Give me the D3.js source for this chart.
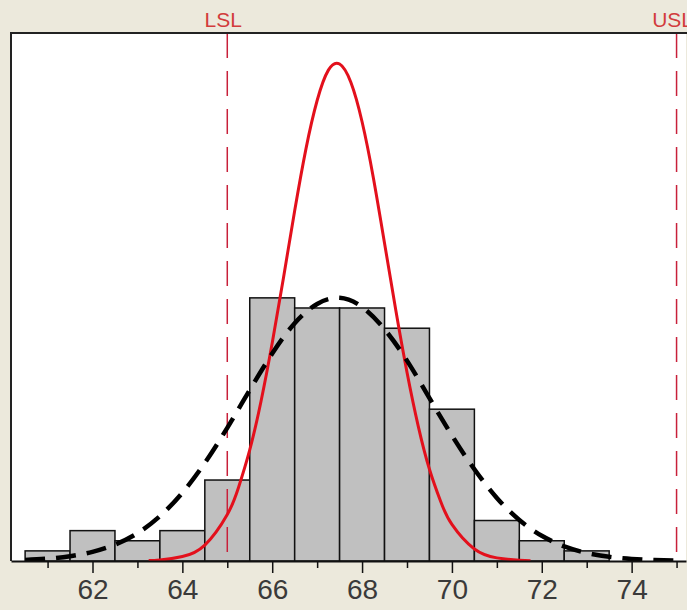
<!DOCTYPE html>
<html>
<head>
<meta charset="utf-8">
<script src="https://cdnjs.cloudflare.com/ajax/libs/d3/7.8.5/d3.min.js"></script>
<style>
  html, body { margin: 0; padding: 0; background: #ECE9DC; }
  svg { display: block; }
</style>
</head>
<body>
<div id="capability"><svg width="687" height="610"></svg></div>
<script>
// histogram bins (centre of each 1-unit bin) and counts
var binCenters = [61, 62, 63, 64, 65, 66, 67, 68, 69, 70, 71, 72, 73];
var binCounts  = [1, 3, 2, 3, 8, 26, 25, 25, 23, 15, 4, 2, 1];

// overall fit (black dashed)
var overallX = [60.5, 61, 61.5, 62, 62.5, 63, 63.5, 64, 64.5, 65, 65.5, 66, 66.5, 67, 67.5,
                68, 68.5, 69, 69.5, 70, 70.5, 71, 71.5, 72, 72.5, 73, 73.5, 74, 74.5, 75];
var overallY = [0.11, 0.23, 0.47, 0.9, 1.62, 2.75, 4.43, 6.74, 9.69, 13.16, 16.9, 20.5, 23.5, 25.4, 26.0,
                25.1, 22.9, 19.8, 16.1, 12.4, 9.06, 6.23, 4.05, 2.49, 1.44, 0.79, 0.41, 0.2, 0.09, 0.04];

// within fit (red solid)
var withinX = [63.25, 63.5, 64, 64.5, 65, 65.25, 65.5, 65.75, 66, 66.25, 66.5, 66.75, 67, 67.25, 67.5,
               67.75, 68, 68.25, 68.5, 68.75, 69, 69.25, 69.5, 69.75, 70, 70.5, 71, 71.5, 71.75];
var withinY = [0.04, 0.1, 0.44, 1.57, 4.59, 7.27, 10.98, 15.76, 21.53, 27.97, 34.6, 40.7, 45.5, 48.5, 49.1,
               47.3, 43.4, 37.9, 31.4, 24.8, 18.65, 13.33, 9.06, 5.87, 3.61, 1.18, 0.31, 0.07, 0.03];

// spec limits
var specNames  = ["LSL", "USL"];
var specValues = [65, 75];

var majorTicks = [62, 64, 66, 68, 70, 72, 74];
var minorTicks = [61, 63, 65, 67, 69, 71, 73, 75];

var svg = d3.select("#capability").select("svg");
var plot = {left: 11, top: 33, right: 686, bottom: 561};

var x = d3.scaleLinear()
    .domain([60.186, 75.21])
    .range([plot.left, plot.right]);

var y = d3.scaleLinear()
    .domain([0, 52.17])
    .range([plot.bottom, plot.top]);

svg.append("defs").append("clipPath").attr("id", "plotclip")
  .append("rect")
    .attr("x", plot.left).attr("y", plot.top)
    .attr("width", plot.right - plot.left).attr("height", plot.bottom - plot.top);

// white plot area
svg.append("rect")
    .attr("x", plot.left)
    .attr("y", plot.top)
    .attr("width", plot.right - plot.left)
    .attr("height", plot.bottom - plot.top)
    .attr("fill", "#ffffff");

var g = svg.append("g").attr("clip-path", "url(#plotclip)");

// bars
g.append("g")
  .selectAll("rect")
  .data(binCenters)
  .enter().append("rect")
    .attr("x", function(d) { return x(d - 0.5); })
    .attr("y", function(d, i) { return y(binCounts[i]); })
    .attr("width", function(d) { return x(d + 0.5) - x(d - 0.5); })
    .attr("height", function(d, i) { return y(0) - y(binCounts[i]); })
    .attr("fill", "#c0c0c0")
    .attr("stroke", "#111")
    .attr("stroke-width", 1.5);

// spec limit lines
g.append("g")
  .selectAll("line")
  .data(specValues)
  .enter().append("line")
    .attr("x1", function(d) { return x(d); })
    .attr("x2", function(d) { return x(d); })
    .attr("y1", plot.top)
    .attr("y2", plot.bottom)
    .attr("stroke", "#c8203a")
    .attr("stroke-width", 1.5)
    .attr("stroke-dasharray", "25,13");

var line = d3.line()
    .x(function(d) { return x(d[0]); })
    .y(function(d) { return y(d[1]); })
    .curve(d3.curveNatural);

// within curve
g.append("path")
    .datum(withinX.map(function(v, i) { return [v, withinY[i]]; }))
    .attr("d", line)
    .attr("fill", "none")
    .attr("stroke", "#e3101c")
    .attr("stroke-width", 3);

// overall curve
g.append("path")
    .datum(overallX.map(function(v, i) { return [v, overallY[i]]; }))
    .attr("d", line)
    .attr("fill", "none")
    .attr("stroke", "#000")
    .attr("stroke-width", 4.5)
    .attr("stroke-dasharray", "20,11");

// frame (left + top)
svg.append("path")
    .attr("d", "M" + plot.left + "," + plot.bottom + "V" + plot.top + "H" + 687)
    .attr("fill", "none")
    .attr("stroke", "#222")
    .attr("stroke-width", 2);

// x axis, major ticks with labels
var xAxis = svg.append("g")
    .attr("transform", "translate(0," + plot.bottom + ")")
    .call(d3.axisBottom(x).tickValues(majorTicks).tickSize(12).tickSizeOuter(0).tickPadding(6));
xAxis.select(".domain").attr("stroke", "#111").attr("stroke-width", 2);
xAxis.selectAll(".tick line").attr("stroke", "#111").attr("stroke-width", 1.5);
xAxis.selectAll(".tick text")
    .attr("font-family", "Liberation Sans, Arial, sans-serif")
    .attr("font-size", 28)
    .attr("fill", "#3a3a3a");

// minor ticks
var xMinor = svg.append("g")
    .attr("transform", "translate(0," + plot.bottom + ")")
    .call(d3.axisBottom(x).tickValues(minorTicks).tickSize(7).tickSizeOuter(0).tickFormat(""));
xMinor.select(".domain").remove();
xMinor.selectAll(".tick line").attr("stroke", "#111").attr("stroke-width", 1.5);

// spec limit labels
svg.append("g")
  .selectAll("text")
  .data(specValues)
  .enter().append("text")
    .attr("x", function(d) { return x(d) - 4; })
    .attr("y", 27)
    .attr("text-anchor", "middle")
    .attr("font-family", "Liberation Sans, Arial, sans-serif")
    .attr("font-size", 21)
    .attr("fill", "#d23c3c")
    .text(function(d, i) { return specNames[i]; });
</script>
</body>
</html>
